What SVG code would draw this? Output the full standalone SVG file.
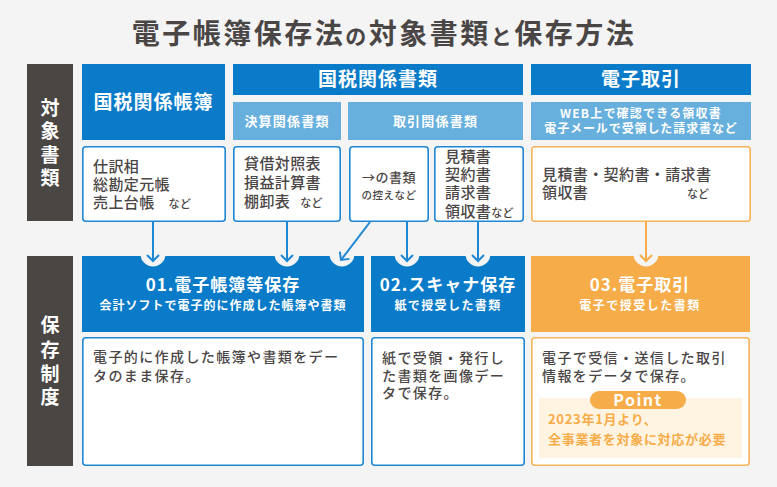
<svg xmlns="http://www.w3.org/2000/svg" width="777" height="487" viewBox="0 0 777 487">
<style>
text{font-family:"Noto Sans CJK JP","Noto Sans",sans-serif;}
.t{fill:#4b4646;font-weight:500;}
.s{font-size:11px;}
.h{fill:#fff;font-weight:700;text-anchor:middle;}
.side{fill:#4a4644;}
.blue{fill:#0a7bc8;}
.lb{fill:#67afdd;}
.orange{fill:#f6ac48;}
.wb{fill:#fff;stroke:#1f87d3;stroke-width:1.6;}
.wo{fill:#fff;stroke:#f6b45a;stroke-width:1.6;}
.notch{fill:#f4f4f4;}
.ln{stroke:#1f87d3;stroke-width:2;fill:none;}
.lo{stroke:#f6ac48;stroke-width:2;fill:none;}
</style>
<defs>
<marker id="ab" markerUnits="userSpaceOnUse" markerWidth="14" markerHeight="14" refX="7" refY="7" orient="auto" viewBox="0 0 14 14">
<path d="M1,1 L7,7 L1,13" stroke="#1f87d3" stroke-width="2" fill="none"/>
</marker>
<marker id="ao" markerUnits="userSpaceOnUse" markerWidth="14" markerHeight="14" refX="7" refY="7" orient="auto" viewBox="0 0 14 14">
<path d="M1,1 L7,7 L1,13" stroke="#f6ac48" stroke-width="2" fill="none"/>
</marker>
</defs>
<rect width="777" height="487" fill="#f4f4f4"/>
<text x="384" y="44" text-anchor="middle" font-size="28" font-weight="700" letter-spacing="2.5" fill="#4b4646">電子帳簿保存法<tspan font-size="21">の</tspan>対象書類<tspan font-size="21">と</tspan>保存方法</text>

<g id="side-target">
<rect class="side" x="27" y="64" width="46" height="157"/>
<text class="h" font-size="19"><tspan x="50" y="115">対</tspan><tspan x="50" y="138">象</tspan><tspan x="50" y="162">書</tspan><tspan x="50" y="185">類</tspan></text>
</g>
<g id="side-system">
<rect class="side" x="27" y="256" width="46" height="210"/>
<text class="h" font-size="19"><tspan x="50" y="332">保</tspan><tspan x="50" y="357">存</tspan><tspan x="50" y="381">制</tspan><tspan x="50" y="404">度</tspan></text>
</g>

<g id="hdr-books">
<rect class="blue" x="82" y="64" width="143" height="76"/>
<text class="h" x="153.5" y="109" font-size="19" letter-spacing="1">国税関係帳簿</text>
</g>
<g id="hdr-docs">
<rect class="blue" x="233" y="64" width="290" height="31"/>
<text class="h" x="378" y="86" font-size="19" letter-spacing="1">国税関係書類</text>
</g>
<g id="hdr-kessan">
<rect class="lb" x="233" y="102" width="108" height="38"/>
<text class="h" x="287" y="126" font-size="13" letter-spacing="1.2">決算関係書類</text>
</g>
<g id="hdr-torihiki">
<rect class="lb" x="348" y="102" width="175" height="38"/>
<text class="h" x="435.5" y="126" font-size="13" letter-spacing="1.2">取引関係書類</text>
</g>
<g id="hdr-dennshi">
<rect class="blue" x="531" y="64" width="220" height="31"/>
<text class="h" x="641" y="86" font-size="19" letter-spacing="1">電子取引</text>
</g>
<g id="hdr-dennshi-sub">
<rect class="lb" x="531" y="102" width="220" height="38"/>
<text class="h" x="641" y="118" font-size="12" letter-spacing="1.2">WEB上で確認できる領収書</text>
<text class="h" x="641" y="133" font-size="12" letter-spacing="0.9">電子メールで受領した請求書など</text>
</g>

<g id="list-books">
<rect class="wb" x="82.8" y="146.8" width="142.4" height="74.4" rx="3"/>
<text class="t" font-size="15" letter-spacing="0.4"><tspan x="93" y="172">仕訳相</tspan><tspan x="93" y="190">総勘定元帳</tspan><tspan x="93" y="208">売上台帳<tspan class="s" dx="14">など</tspan></tspan></text>
</g>
<g id="list-kessan">
<rect class="wb" x="233.8" y="146.8" width="106.4" height="74.4" rx="3"/>
<text class="t" font-size="15" letter-spacing="0.4"><tspan x="244" y="169">貸借対照表</tspan><tspan x="244" y="188">損益計算書</tspan><tspan x="244" y="207">棚卸表<tspan class="s" dx="10">など</tspan></tspan></text>
</g>
<g id="list-hikae">
<rect class="wb" x="349.8" y="146.8" width="78.4" height="74.4" rx="3"/>
<text class="t" x="389" y="182" text-anchor="middle" font-size="13" letter-spacing="0.5">→の書類</text>
<text class="t" x="389" y="199" text-anchor="middle" font-size="10.5" letter-spacing="0.5">の控えなど</text>
</g>
<g id="list-torihiki">
<rect class="wb" x="434.8" y="146.8" width="88.4" height="74.4" rx="3"/>
<text class="t" font-size="15" letter-spacing="0.4"><tspan x="445" y="162">見積書</tspan><tspan x="445" y="180">契約書</tspan><tspan x="445" y="198">請求書</tspan><tspan x="445" y="217">領収書<tspan class="s">など</tspan></tspan></text>
</g>
<g id="list-dennshi">
<rect class="wo" x="531.8" y="146.8" width="218.4" height="74.4" rx="3"/>
<text class="t" font-size="15" letter-spacing="0.4"><tspan x="542" y="180">見積書・契約書・請求書</tspan><tspan x="542" y="198">領収書</tspan></text>
<text class="t s" x="687" y="198">など</text>
</g>

<g id="sys-01">
<rect class="blue" x="82" y="256" width="282" height="76"/>
<circle class="notch" cx="153" cy="254" r="12.5"/>
<circle class="notch" cx="287" cy="254" r="12.5"/>
<circle class="notch" cx="342" cy="254" r="12.5"/>
<text class="h" x="223" y="291" font-size="17" letter-spacing="1">01.電子帳簿等保存</text>
<text class="h" x="223" y="310" font-size="12" letter-spacing="1">会計ソフトで電子的に作成した帳簿や書類</text>
</g>
<g id="sys-02">
<rect class="blue" x="371" y="256" width="154" height="76"/>
<circle class="notch" cx="407" cy="254" r="12.5"/>
<circle class="notch" cx="478" cy="254" r="12.5"/>
<text class="h" x="448" y="291" font-size="17" letter-spacing="1">02.スキャナ保存</text>
<text class="h" x="448" y="310" font-size="12" letter-spacing="1.4">紙で授受した書類</text>
</g>
<g id="sys-03">
<rect class="orange" x="531" y="256" width="219" height="76"/>
<circle class="notch" cx="646" cy="254" r="12.5"/>
<text class="h" x="640" y="291" font-size="17" letter-spacing="1">03.電子取引</text>
<text class="h" x="640" y="310" font-size="12" letter-spacing="1.5">電子で授受した書類</text>
</g>

<g id="connectors">
<line class="ln" x1="153" y1="222" x2="153" y2="261" marker-end="url(#ab)"/>
<line class="ln" x1="287" y1="222" x2="287" y2="261" marker-end="url(#ab)"/>
<line class="ln" x1="370" y1="222" x2="341" y2="260" marker-end="url(#ab)"/>
<line class="ln" x1="407" y1="222" x2="407" y2="261" marker-end="url(#ab)"/>
<line class="ln" x1="478" y1="222" x2="478" y2="261" marker-end="url(#ab)"/>
<line class="lo" x1="646" y1="222" x2="646" y2="261" marker-end="url(#ao)"/>
</g>

<g id="desc-01">
<rect class="wb" x="82.8" y="337.8" width="280.4" height="127.4" rx="3"/>
<text class="t" font-size="14" letter-spacing="1.4"><tspan x="93" y="362">電子的に作成した帳簿や書類をデー</tspan><tspan x="93" y="381">タのまま保存。</tspan></text>
</g>
<g id="desc-02">
<rect class="wb" x="371.8" y="337.8" width="152.4" height="127.4" rx="3"/>
<text class="t" font-size="14" letter-spacing="1.4"><tspan x="382" y="363">紙で受領・発行し</tspan><tspan x="382" y="381">た書類を画像デー</tspan><tspan x="382" y="398">タで保存。</tspan></text>
</g>
<g id="desc-03">
<rect class="wo" x="531.8" y="337.8" width="217.4" height="127.4" rx="3"/>
<text class="t" font-size="14" letter-spacing="1.4"><tspan x="542" y="363">電子で受信・送信した取引</tspan><tspan x="542" y="381">情報をデータで保存。</tspan></text>
<rect x="539" y="398" width="203" height="60" fill="#fff4e2"/>
<rect x="590" y="391" width="96" height="18" rx="9" fill="#f6ac48"/>
<text class="h" x="638" y="406" font-size="16" letter-spacing="1.5">Point</text>
<text fill="#f6ac48" font-size="13" font-weight="700" letter-spacing="0.7"><tspan x="548" y="424">2023年1月より、</tspan><tspan x="548" y="444">全事業者を対象に対応が必要</tspan></text>
</g>
</svg>
